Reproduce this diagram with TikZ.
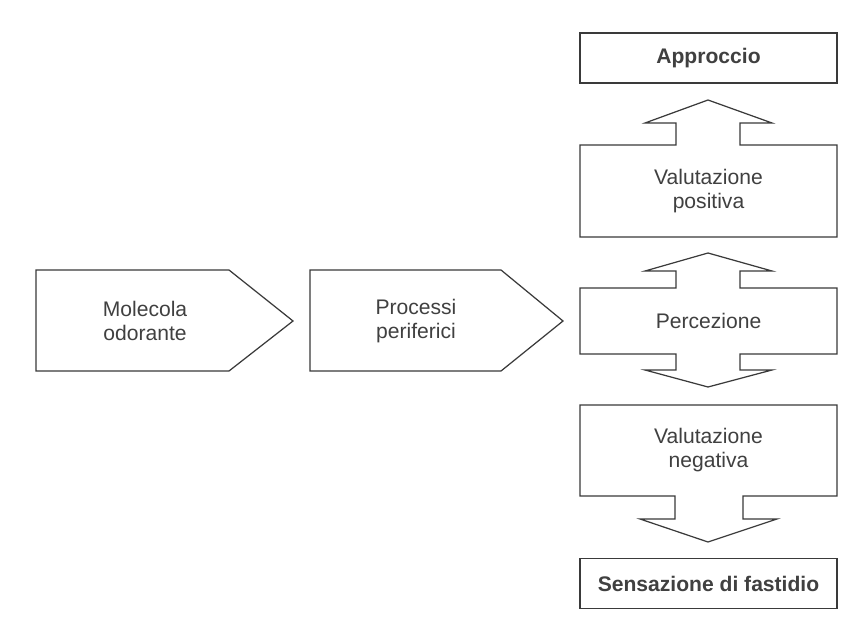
\documentclass[tikz,border=0pt]{standalone}
\usepackage{fontspec}
\setmainfont{Liberation Sans}
\usepackage{tikz}

\definecolor{linegray}{HTML}{3A3A3A}
\definecolor{textgray}{HTML}{404040}

\begin{document}
\begin{tikzpicture}[x=0.02cm, y=-0.02cm,
    outline/.style = {draw=linegray, line width=0.7pt, fill=white, line join=miter},
    label/.style = {text=textgray, align=center, font=\fontsize{12}{14}\selectfont},
    plainbox/.style = {outline, label, minimum width=5.14cm, minimum height=1cm, inner sep=0pt, font=\fontsize{12}{14}\selectfont\bfseries}]
    \useasboundingbox[fill=white] (0,0) rectangle (861,621);

    % left pointers
    \draw[outline] (36,270) -- (229,270) -- (293,321) -- (229,371) -- (36,371) -- cycle;
    \node[label] (molecola) at (145,321) {Molecola\\odorante};
    \draw[outline] (310,270) -- (501,270) -- (563,321) -- (501,371) -- (310,371) -- cycle;
    \node[label] (processi) at (416,321) {Processi\\periferici};

    % right column
    \node[plainbox] (approccio) at (708.5,58) {Approccio};
    \draw[outline] (580,145) -- (676,145) -- (676,123) -- (645,123) -- (708,100)
        -- (772,123) -- (740,123) -- (740,145) -- (837,145) -- (837,237) -- (580,237) -- cycle;
    \node[label] (positiva) at (708.5,191) {Valutazione\\positiva};
    \draw[outline] (580,288) -- (676,288) -- (676,271) -- (645,271) -- (708,253)
        -- (772,271) -- (740,271) -- (740,288) -- (837,288) -- (837,354)
        -- (740,354) -- (740,370) -- (772,370) -- (708,387) -- (645,370)
        -- (676,370) -- (676,354) -- (580,354) -- cycle;
    \node[label] (percezione) at (708.5,321) {Percezione};
    \draw[outline] (580,405) -- (837,405) -- (837,496) -- (743,496) -- (743,519)
        -- (777,519) -- (708,542) -- (640,519) -- (675,519) -- (675,496) -- (580,496) -- cycle;
    \node[label] (negativa) at (708.5,450) {Valutazione\\negativa};
    \node[plainbox] (fastidio) at (708.5,583.5) {Sensazione di fastidio};
\end{tikzpicture}
\end{document}
